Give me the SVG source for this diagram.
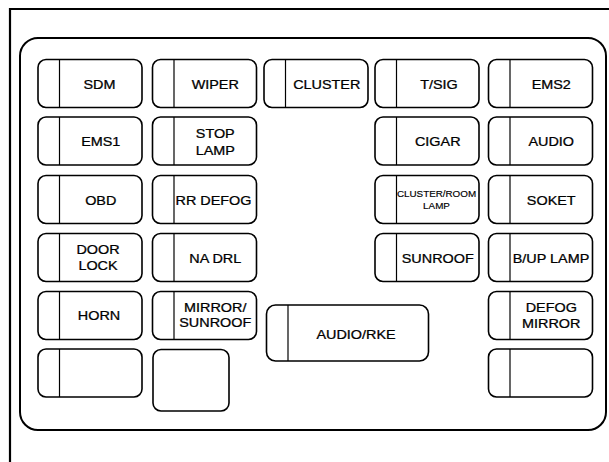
<svg xmlns="http://www.w3.org/2000/svg" width="609" height="462" viewBox="0 0 609 462">
<style>
.frame{fill:none;stroke:#000;stroke-width:2.2}
.panel{fill:#fff;stroke:#000;stroke-width:2}
.fuse{fill:#fff;stroke:#000;stroke-width:1.6}
.div{stroke:#000;stroke-width:1.2}
text{font-family:"Liberation Sans",Arial,sans-serif;font-size:12px;fill:#000;stroke:#000;stroke-width:0.25;text-anchor:middle}
.sm{font-size:8.2px;stroke-width:0.15}
</style>
<rect width="609" height="462" fill="#fff"/>
<path class="frame" d="M10,462 V9 H609"/>
<rect id="panel" class="panel" x="20" y="38" width="586" height="392" rx="18"/>

<g id="sdm"><rect class="fuse" x="38" y="59.5" width="104" height="48" rx="8"/><line class="div" x1="59.5" y1="59.5" x2="59.5" y2="107.5"/><text transform="translate(99.5,88.5) scale(1.2,1)">SDM</text></g>
<g id="wiper"><rect class="fuse" x="152.5" y="59.5" width="104" height="48" rx="8"/><line class="div" x1="174" y1="59.5" x2="174" y2="107.5"/><text transform="translate(215.25,88.5) scale(1.2,1)">WIPER</text></g>
<g id="cluster"><rect class="fuse" x="264" y="59.5" width="104" height="48" rx="8"/><line class="div" x1="285.5" y1="59.5" x2="285.5" y2="107.5"/><text transform="translate(326.75,88.5) scale(1.2,1)">CLUSTER</text></g>
<g id="tsig"><rect class="fuse" x="375" y="59.5" width="104" height="48" rx="8"/><line class="div" x1="396.5" y1="59.5" x2="396.5" y2="107.5"/><text transform="translate(439,88.5) scale(1.2,1)">T/SIG</text></g>
<g id="ems2"><rect class="fuse" x="488.5" y="59.5" width="104" height="48" rx="8"/><line class="div" x1="510" y1="59.5" x2="510" y2="107.5"/><text transform="translate(551.25,88.5) scale(1.2,1)">EMS2</text></g>

<g id="ems1"><rect class="fuse" x="38" y="117" width="104" height="48" rx="8"/><line class="div" x1="59.5" y1="117" x2="59.5" y2="165"/><text transform="translate(100.75,146) scale(1.2,1)">EMS1</text></g>
<g id="stoplamp"><rect class="fuse" x="152.5" y="117" width="104" height="48" rx="8"/><line class="div" x1="174" y1="117" x2="174" y2="165"/><text transform="translate(215.25,137.5) scale(1.2,1)"><tspan x="0">STOP</tspan><tspan x="0" dy="17.5">LAMP</tspan></text></g>
<g id="cigar"><rect class="fuse" x="375" y="117" width="104" height="48" rx="8"/><line class="div" x1="396.5" y1="117" x2="396.5" y2="165"/><text transform="translate(437.75,146) scale(1.2,1)">CIGAR</text></g>
<g id="audio"><rect class="fuse" x="488.5" y="117" width="104" height="48" rx="8"/><line class="div" x1="510" y1="117" x2="510" y2="165"/><text transform="translate(551.25,146) scale(1.2,1)">AUDIO</text></g>

<g id="obd"><rect class="fuse" x="38" y="175.5" width="104" height="48" rx="8"/><line class="div" x1="59.5" y1="175.5" x2="59.5" y2="223.5"/><text transform="translate(100.75,204.5) scale(1.2,1)">OBD</text></g>
<g id="rrdefog"><rect class="fuse" x="152.5" y="175.5" width="104" height="48" rx="8"/><line class="div" x1="174" y1="175.5" x2="174" y2="223.5"/><text transform="translate(213.5,204.5) scale(1.2,1)">RR DEFOG</text></g>
<g id="clusterroom"><rect class="fuse" x="375" y="175.5" width="104" height="48" rx="8"/><line class="div" x1="396.5" y1="175.5" x2="396.5" y2="223.5"/><text class="sm" transform="translate(436.5,197) scale(1.2,1)"><tspan x="0">CLUSTER/ROOM</tspan><tspan x="0" dy="12">LAMP</tspan></text></g>
<g id="soket"><rect class="fuse" x="488.5" y="175.5" width="104" height="48" rx="8"/><line class="div" x1="510" y1="175.5" x2="510" y2="223.5"/><text transform="translate(551.25,204.5) scale(1.2,1)">SOKET</text></g>

<g id="doorlock"><rect class="fuse" x="38" y="233.5" width="104" height="48" rx="8"/><line class="div" x1="59.5" y1="233.5" x2="59.5" y2="281.5"/><text transform="translate(98,253.5) scale(1.2,1)"><tspan x="0">DOOR</tspan><tspan x="0" dy="16.5">LOCK</tspan></text></g>
<g id="nadrl"><rect class="fuse" x="152.5" y="233.5" width="104" height="48" rx="8"/><line class="div" x1="174" y1="233.5" x2="174" y2="281.5"/><text transform="translate(215.25,262.5) scale(1.2,1)">NA DRL</text></g>
<g id="sunroof"><rect class="fuse" x="375" y="233.5" width="104" height="48" rx="8"/><line class="div" x1="396.5" y1="233.5" x2="396.5" y2="281.5"/><text transform="translate(437.75,262.5) scale(1.2,1)">SUNROOF</text></g>
<g id="buplamp"><rect class="fuse" x="488.5" y="233.5" width="104" height="48" rx="8"/><line class="div" x1="510" y1="233.5" x2="510" y2="281.5"/><text transform="translate(551,262.5) scale(1.2,1)">B/UP LAMP</text></g>

<g id="horn"><rect class="fuse" x="38" y="291.5" width="104" height="48" rx="8"/><line class="div" x1="59.5" y1="291.5" x2="59.5" y2="339.5"/><text transform="translate(99,320) scale(1.2,1)">HORN</text></g>
<g id="mirrorsunroof"><rect class="fuse" x="152.5" y="291.5" width="104" height="48" rx="8"/><line class="div" x1="174" y1="291.5" x2="174" y2="339.5"/><text transform="translate(215.25,311.5) scale(1.2,1)"><tspan x="0">MIRROR/</tspan><tspan x="0" dy="16">SUNROOF</tspan></text></g>
<g id="defogmirror"><rect class="fuse" x="488.5" y="291.5" width="104" height="48" rx="8"/><line class="div" x1="510" y1="291.5" x2="510" y2="339.5"/><text transform="translate(551.25,312) scale(1.2,1)"><tspan x="0">DEFOG</tspan><tspan x="0" dy="16">MIRROR</tspan></text></g>

<g id="audiorke"><rect class="fuse" x="266.5" y="305" width="162" height="56" rx="9"/><line class="div" x1="288" y1="305" x2="288" y2="361"/><text transform="translate(356,339) scale(1.2,1)">AUDIO/RKE</text></g>

<g id="spare1"><rect class="fuse" x="38" y="349" width="104" height="48" rx="8"/><line class="div" x1="59.5" y1="349" x2="59.5" y2="397"/></g>
<g id="spare2"><rect class="fuse" x="153" y="349.5" width="76" height="61.5" rx="8"/></g>
<g id="spare3"><rect class="fuse" x="488.5" y="349" width="104" height="48" rx="8"/><line class="div" x1="510" y1="349" x2="510" y2="397"/></g>
</svg>
